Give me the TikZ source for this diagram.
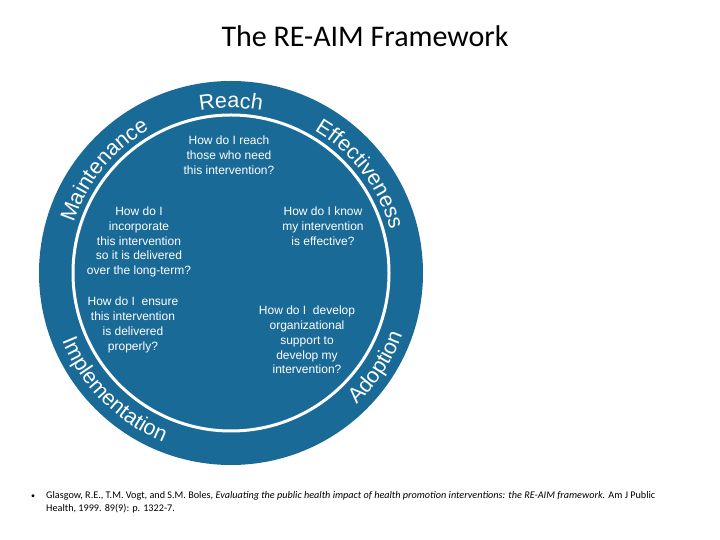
\documentclass[tikz,border=0pt]{standalone}
\usepackage{fontspec}
\setmainfont{Liberation Sans}
\newfontfamily\carlitofont{Carlito}
\usetikzlibrary{decorations.text}
\definecolor{reblue}{HTML}{1A6A97}
\begin{document}
\begin{tikzpicture}[x=1pt,y=1pt,
  q/.style={text=white,align=center,font=\fontsize{12}{14.8}\selectfont},
  lab/.style={decorate,decoration={text along path,text color=white,text align=center,
     text={|\fontsize{21.5}{21.5}\selectfont|#1}}}]
\useasboundingbox (0,0) rectangle (720,540);
\node[font=\carlitofont\fontsize{30}{30}\selectfont] (title) at (365,504) {The RE-AIM Framework};
\node[circle,fill=reblue,minimum size=384pt,inner sep=0] (outer) at (231,267) {};
\node[circle,draw=white,line width=3pt,minimum size=316pt,inner sep=0] (ring) at (231,267) {};
\coordinate (c) at (231,267);
\path[lab=Reach] (c) ++(112:165) arc (112:68:165);
\path[lab=Maintenance] (c) ++(174:165) arc (174:108:165);
\path[lab=Effectiveness] (c) ++(72:165) arc (72:3:165);
\path[lab=Adoption] (c) ++(-60:182) arc (-60:-6:182);
\path[lab=Implementation] (c) ++(186:182) arc (186:264:182);
\node[q] (qr) at (229,385) {How do I reach\\those who need\\this intervention?};
\node[q] (qe) at (323,314) {How do I know\\my intervention\\is effective?};
\node[q] (qm) at (139,298) {How do I\\incorporate\\this intervention\\so it is delivered\\over the long-term?};
\node[q] (qi) at (133,215) {How do I\ \ ensure\\this intervention\\is delivered\\properly?};
\node[q] (qa) at (307,200) {How do I\ \ develop\\organizational\\support to\\develop my\\intervention?};
\node[font=\carlitofont\fontsize{8}{8}\selectfont] (bul) at (33,43) {\textbullet};
\node[font=\carlitofont\fontsize{10.2}{13}\selectfont,anchor=north west,align=left,inner sep=0] (ref) at (46,49)
 {Glasgow, R.E., T.M. Vogt, and S.M. Boles, \textit{Evaluating the public health impact of health promotion interventions: the RE-AIM framework.} Am J Public\\Health, 1999. 89(9): p. 1322-7.};
\end{tikzpicture}
\end{document}
